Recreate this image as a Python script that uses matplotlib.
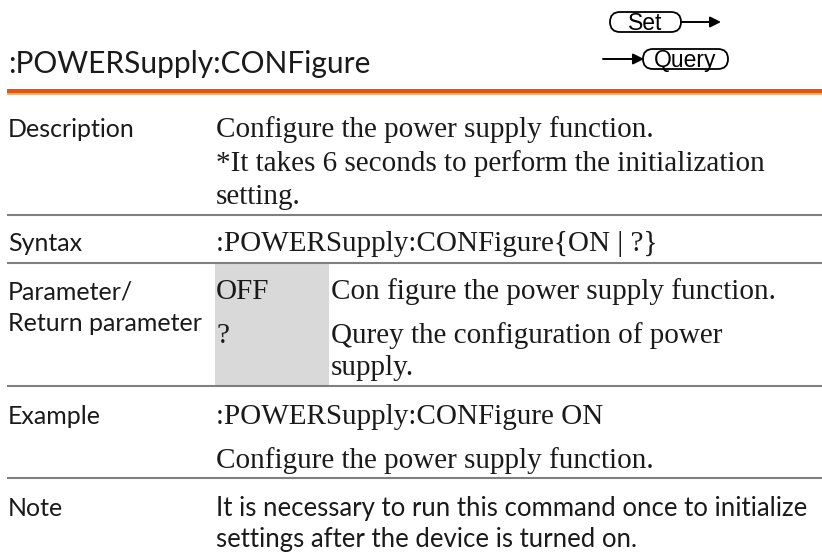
import matplotlib.pyplot as plt
from matplotlib.patches import FancyBboxPatch, Rectangle

# page content
title = ":POWERSupply:CONFigure"
row_labels = ["Description", "Syntax", "Parameter/", "Return parameter", "Example", "Note"]
desc_lines = ["Configure the power supply function.",
              "*It takes 6 seconds to perform the initialization",
              "setting."]
syntax_text = ":POWERSupply:CONFigure{ON | ?}"
param_names = ["OFF", "?"]
param_desc = ["Con figure the power supply function.",
              "Qurey the configuration of power",
              "supply."]
example_lines = [":POWERSupply:CONFigure ON", "Configure the power supply function."]
note_lines = ["It is necessary to run this command once to initialize",
              "settings after the device is turned on."]
buttons = ["Set", "Query"]

SANS = ["Lato", "DejaVu Sans"]
SERIF = ["Liberation Serif", "DejaVu Serif"]
INK = "#1a1a1a"

fig = plt.figure(figsize=(8.22, 5.52), dpi=100)
ax = fig.add_axes([0, 0, 1, 1])
ax.set_xlim(0, 822)
ax.set_ylim(552, 0)
ax.axis("off")


def put(x, y, s, fam, size, **kw):
    ax.text(x, y, s, family=fam, fontsize=size, color=INK, va="baseline", ha="left", **kw)


# header
put(8, 73, title, SANS, 21.5)

# Set / Query badges
ax.add_patch(FancyBboxPatch((610, 12), 71, 20, boxstyle="round,pad=0,rounding_size=10",
                            fc="white", ec="black", lw=1.3))
ax.text(645.5, 23, buttons[0], family="Liberation Sans", fontsize=16.5, ha="center", va="center")
ax.annotate("", xy=(721, 22), xytext=(681, 22),
            arrowprops=dict(arrowstyle="-|>", color="black", lw=1.4, mutation_scale=16,
                            shrinkA=0, shrinkB=0))
ax.add_patch(FancyBboxPatch((643, 49), 85, 20, boxstyle="round,pad=0,rounding_size=10",
                            fc="white", ec="black", lw=1.3))
ax.text(685.5, 60, buttons[1], family="Liberation Sans", fontsize=16.5, ha="center", va="center")
ax.annotate("", xy=(644, 59), xytext=(603, 59),
            arrowprops=dict(arrowstyle="-|>", color="black", lw=1.4, mutation_scale=16,
                            shrinkA=0, shrinkB=0))

# orange rule
ax.add_patch(Rectangle((7, 89), 815, 3.5, fc="#E8530E", ec="none"))
ax.add_patch(Rectangle((7, 92.5), 815, 2.5, fc="#F6B37A", ec="none"))

# grey separators and shaded parameter cell
for yl in [215, 263, 386, 478]:
    ax.plot([7, 822], [yl, yl], color="#7f7f7f", lw=1.5, solid_capstyle="butt")
ax.add_patch(Rectangle((215, 264), 114, 121, fc="#d9d9d9", ec="none"))

# left column labels
label_y = [137, 251, 299, 331, 424, 516]
for lab, yy in zip(row_labels, label_y):
    put(8, yy, lab, SANS, 18)

# right column
SER = 21
for s, yy in zip(desc_lines, [137, 171, 204]):
    put(216, yy, s, SERIF, SER)
put(216, 251, syntax_text, SERIF, SER)
put(216, 299, param_names[0], SERIF, SER)
put(216, 343, param_names[1], SERIF, SER)
for s, yy in zip(param_desc, [299, 343, 375]):
    put(331, yy, s, SERIF, SER)
for s, yy in zip(example_lines, [424, 468]):
    put(216, yy, s, SERIF, SER)
for s, yy in zip(note_lines, [516, 547]):
    put(216, yy, s, SANS, 18.5)

fig.savefig("out.png", dpi=100)
